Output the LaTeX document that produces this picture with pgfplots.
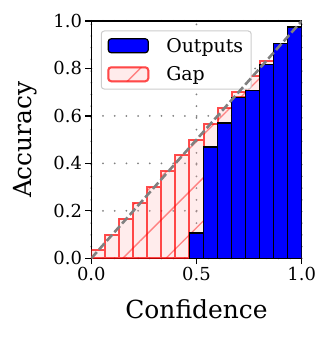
\documentclass[border=0pt]{standalone}
\usepackage{fontspec}
\setmainfont{DejaVu Serif}
\usepackage{pgfplots}
\usepackage{pgfplotstable}
\pgfplotsset{compat=1.18}
\usetikzlibrary{patterns.meta}

% 15 bins: bin centre, accuracy (outputs), gap to the diagonal
\pgfplotstableread{
x       out    gap
0.03333 0      0.03333
0.1     0      0.1
0.16667 0      0.16667
0.23333 0      0.23333
0.3     0      0.3
0.36667 0      0.36667
0.43333 0      0.43333
0.5     0.107  0.393
0.56667 0.469  0.098
0.63333 0.570  0.063
0.7     0.678  0.022
0.76667 0.706  0.061
0.83333 0.816  0.017
0.9     0.905  -0.005
0.96667 0.975  -0.008
}\reldata

\definecolor{gapfill}{rgb}{1,0.7,0.7}

\pgfplotsset{frame/.style={
  at={(0,0)}, anchor=south west,
  scale only axis, width=210.4bp, height=237.3bp,
  xmin=0, xmax=1, ymin=0, ymax=1}}

\begin{document}
\begin{tikzpicture}
\path[use as bounding box] (-91.3bp,-79.7bp) rectangle (240.7bp,258.3bp);
\begin{axis}[
  frame,
  ybar stacked, bar width=0.06667,
  xtick={0,0.5,1}, ytick={0,0.2,0.4,0.6,0.8,1},
  /pgf/number format/assume math mode=true,
  xticklabel style={/pgf/number format/.cd, fixed, fixed zerofill, precision=1},
  yticklabel style={/pgf/number format/.cd, fixed, fixed zerofill, precision=1},
  ticklabel style={font=\fontsize{18}{18}\selectfont},
  tick align=outside, xtick pos=bottom, ytick pos=left,
  major tick length=5.8bp,
  every tick/.style={black, line width=1.2bp},
  axis line style={line width=1.3bp},
  grid=major,
  grid style={gray, line width=2bp, line cap=round, dash pattern=on 0bp off 11.7bp},
  xlabel={Confidence}, ylabel={Accuracy},
  every axis x label/.style={at={(axis description cs:0.5,-0.253)}, anchor=base,
    font=\fontsize{25}{25}\selectfont},
  every axis y label/.style={at={(axis description cs:-0.315,0.5)}, rotate=90,
    anchor=center, font=\fontsize{25}{25}\selectfont},
  legend image code/.code={\draw[#1] (0bp,-7bp) rectangle (40bp,7bp);},
  legend cell align=left,
  legend style={at={(0.045,0.96)}, anchor=north west,
    draw=black!20, line width=1bp, rounded corners=3bp, fill=white,
    font=\fontsize{19}{19}\selectfont,
    inner xsep=6bp, inner ysep=5bp, row sep=9bp,
    /tikz/every odd column/.append style={column sep=15bp}},
]
\addplot[fill=blue, draw=black, line width=1.2bp] table[x=x, y=out] {\reldata};
\addlegendentry{Outputs}
\addplot[fill=gapfill, fill opacity=0.25, draw=red, draw opacity=0.45, line width=2bp,
  postaction={pattern={Lines[angle=45, distance=30.5bp, line width=1.3bp]},
    pattern color=red, fill opacity=0.4}]
  table[x=x, y=gap] {\reldata};
\addlegendentry{Gap}
\end{axis}
% perfect calibration diagonal, in an overlaid axis so that it is not stacked
\begin{axis}[frame, hide axis]
\addplot[gray, line width=2.6bp, dash pattern=on 8.3bp off 3.3bp]
  coordinates {(0,0) (1,1)};
\end{axis}
\end{tikzpicture}
\end{document}
